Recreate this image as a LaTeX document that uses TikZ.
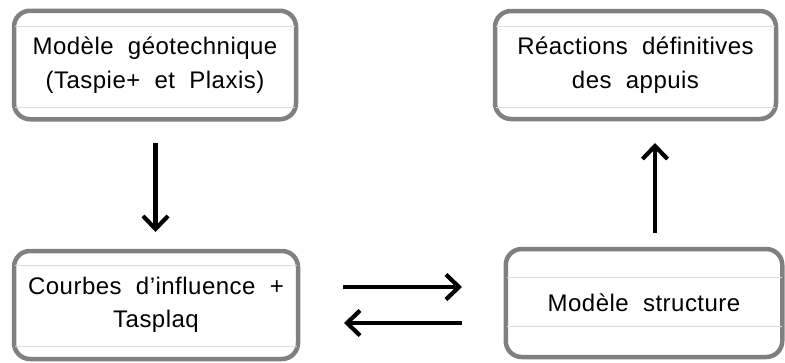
\documentclass[tikz,border=0pt]{standalone}
\usepackage{fontspec}
\setmainfont{Liberation Sans}[WordSpace=2, LetterSpace=2]
\usetikzlibrary{arrows.meta}
\definecolor{boxgray}{HTML}{808080}
\definecolor{glossline}{HTML}{DCDCDC}
\tikzset{
  box/.style={draw=boxgray, line width=4.5pt, rounded corners=16pt, fill=white,
    align=center, inner sep=0pt, font=\fontsize{24}{33.5}\selectfont},
  gloss/.style={draw=glossline, line width=0.8pt},
  flow/.style={line width=4.2pt, -{Straight Barb[length=13pt, width=25pt, line width=4.2pt]}}
}
\begin{document}
\begin{tikzpicture}[x=1pt, y=-1pt]
\useasboundingbox (0,0) rectangle (785,362);
\node[box, minimum width=282pt, minimum height=108.5pt] (geo) at (155,65) {Modèle géotechnique\\(Taspie+ et Plaxis)};
\node[box, minimum width=281pt, minimum height=108pt] (react) at (635.5,65) {Réactions définitives\\des appuis};
\node[box, minimum width=284pt, minimum height=108pt] (courbes) at (156,305) {Courbes d’influence +\\Tasplaq};
\node[box, minimum width=276.5pt, minimum height=108pt] (struct) at (644,303) {Modèle structure};
% gloss lines
\draw[gloss] ([xshift=3pt]geo.west |- 0,26) -- ([xshift=-3pt]geo.east |- 0,26);
\draw[gloss] ([xshift=3pt]geo.west |- 0,107) -- ([xshift=-3pt]geo.east |- 0,107);
\draw[gloss] ([xshift=3pt]react.west |- 0,26) -- ([xshift=-3pt]react.east |- 0,26);
\draw[gloss] ([xshift=3pt]react.west |- 0,107) -- ([xshift=-3pt]react.east |- 0,107);
\draw[gloss] ([xshift=3pt]courbes.west |- 0,265) -- ([xshift=-3pt]courbes.east |- 0,265);
\draw[gloss] ([xshift=3pt]courbes.west |- 0,346) -- ([xshift=-3pt]courbes.east |- 0,346);
\draw[gloss] ([xshift=3pt]struct.west |- 0,277) -- ([xshift=-3pt]struct.east |- 0,277);
\draw[gloss] ([xshift=3pt]struct.west |- 0,326) -- ([xshift=-3pt]struct.east |- 0,326);
% arrows
\coordinate (a1s) at (155.5,143);
\coordinate (a1e) at (155.5,232);
\coordinate (a2s) at (655,233);
\coordinate (a2e) at (655,143);
\coordinate (a3s) at (343,287);
\coordinate (a3e) at (462,287);
\coordinate (a4s) at (462,323);
\coordinate (a4e) at (344,323);
\draw[flow] (a1s) -- (a1e);
\draw[flow] (a2s) -- (a2e);
\draw[flow] (a3s) -- (a3e);
\draw[flow] (a4s) -- (a4e);
\end{tikzpicture}
\end{document}
